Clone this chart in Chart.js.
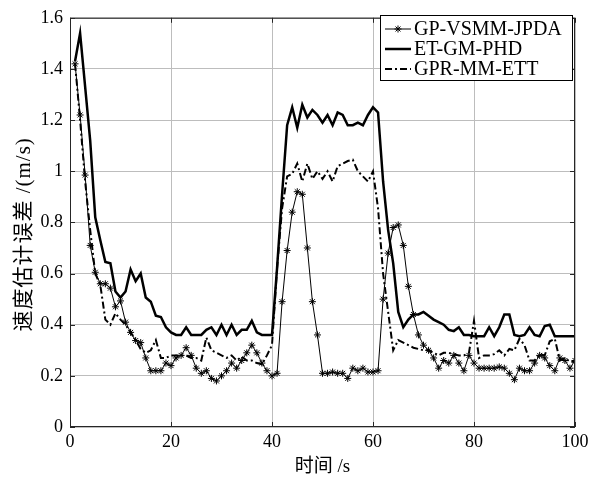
<!DOCTYPE html>
<html><head><meta charset="utf-8">
<script src="https://cdn.jsdelivr.net/npm/chart.js@4/dist/chart.umd.min.js"></script>
<style>html,body{margin:0;padding:0;background:#fff}#wrap{width:598px;height:479px}</style>
</head><body><div id="wrap"><canvas id="c" width="598" height="479"></canvas></div>
<script>
const seriesNames = ['GP-VSMM-JPDA', 'ET-GM-PHD', 'GPR-MM-ETT'];
const xTitle = '时间 /s';
const yTitle = '速度估计误差 /(m/s)';
const xTicks = [0, 20, 40, 60, 80, 100];
const yTicks = [0, 0.2, 0.4, 0.6, 0.8, 1, 1.2, 1.4, 1.6];

// values sampled at t = 1..100 s
const gpVsmmJpda = [1.42,1.22,0.985,0.71,0.605,0.56,0.56,0.543,0.47,0.493,
  0.41,0.37,0.338,0.33,0.27,0.22,0.22,0.22,0.25,0.24,
  0.27,0.28,0.31,0.28,0.23,0.21,0.22,0.19,0.18,0.20,
  0.22,0.25,0.23,0.26,0.29,0.32,0.29,0.25,0.22,0.20,
  0.21,0.49,0.69,0.84,0.92,0.91,0.70,0.49,0.36,0.21,
  0.21,0.215,0.21,0.21,0.19,0.23,0.22,0.23,0.215,0.215,
  0.22,0.50,0.68,0.78,0.79,0.71,0.55,0.44,0.36,0.32,
  0.30,0.27,0.23,0.26,0.25,0.28,0.25,0.22,0.28,0.25,
  0.23,0.23,0.23,0.23,0.235,0.23,0.21,0.185,0.23,0.22,
  0.22,0.25,0.28,0.27,0.24,0.22,0.27,0.26,0.23,0.26];
const etGmPhd = [1.43,1.54,1.33,1.12,0.82,0.73,0.645,0.64,0.53,0.506,
  0.53,0.616,0.57,0.60,0.506,0.49,0.435,0.43,0.39,0.37,
  0.36,0.36,0.39,0.36,0.36,0.36,0.38,0.39,0.36,0.40,
  0.36,0.40,0.36,0.38,0.38,0.415,0.37,0.36,0.36,0.36,
  0.62,0.91,1.18,1.25,1.17,1.26,1.21,1.24,1.22,1.19,
  1.22,1.18,1.23,1.22,1.18,1.18,1.19,1.18,1.22,1.25,
  1.23,0.96,0.77,0.64,0.45,0.39,0.42,0.44,0.44,0.45,
  0.435,0.42,0.41,0.40,0.38,0.375,0.39,0.36,0.36,0.355,
  0.355,0.355,0.39,0.355,0.39,0.44,0.44,0.36,0.355,0.36,
  0.39,0.36,0.355,0.395,0.40,0.355,0.355,0.355,0.355,0.355];
const gprMmEtt = [1.42,1.20,0.96,0.77,0.60,0.555,0.42,0.40,0.445,0.42,
  0.40,0.37,0.34,0.305,0.29,0.30,0.34,0.27,0.27,0.28,
  0.28,0.28,0.28,0.27,0.27,0.26,0.35,0.30,0.29,0.28,
  0.27,0.28,0.26,0.275,0.26,0.26,0.25,0.245,0.28,0.32,
  0.62,0.855,0.98,0.99,1.03,0.96,1.03,0.97,1.00,0.97,
  1.00,0.96,1.02,1.03,1.04,1.045,1.00,0.98,0.96,1.00,
  0.855,0.60,0.45,0.30,0.34,0.33,0.32,0.31,0.305,0.30,
  0.30,0.29,0.28,0.29,0.29,0.285,0.28,0.28,0.29,0.415,
  0.27,0.28,0.28,0.285,0.30,0.28,0.305,0.30,0.345,0.32,
  0.26,0.26,0.285,0.28,0.335,0.345,0.26,0.27,0.255,0.255];

const toPts = arr => arr.map((v, i) => ({x: i + 1, y: v}));

const serif = '"Liberation Serif", "Times New Roman", "Noto Sans CJK SC", serif';

const framePlugin = {
  id: 'frame',
  afterDatasetsDraw(chart) {
    const {ctx, chartArea: a, scales} = chart;
    ctx.save();
    ctx.strokeStyle = '#262626';
    ctx.lineWidth = 1;
    ctx.strokeRect(a.left + 0.5, a.top + 0.5, a.right - a.left - 1, a.bottom - a.top - 1);
    ctx.beginPath();
    const tl = 5;
    xTicks.forEach(v => {
      const x = Math.round(scales.x.getPixelForValue(v)) + 0.5;
      ctx.moveTo(x, a.bottom); ctx.lineTo(x, a.bottom - tl);
      ctx.moveTo(x, a.top); ctx.lineTo(x, a.top + tl);
    });
    yTicks.forEach(v => {
      const y = Math.round(scales.y.getPixelForValue(v)) + 0.5;
      ctx.moveTo(a.left, y); ctx.lineTo(a.left + tl, y);
      ctx.moveTo(a.right, y); ctx.lineTo(a.right - tl, y);
    });
    ctx.stroke();
    ctx.restore();
  },
  afterDraw(chart) {
    const {ctx, chartArea: a} = chart;
    // y axis title, rotated
    ctx.save();
    ctx.translate(24, (a.top + a.bottom) / 2 + 12);
    ctx.rotate(-Math.PI / 2);
    ctx.font = '21px ' + serif;
    ctx.textAlign = 'center';
    ctx.textBaseline = 'middle';
    ctx.fillStyle = '#000';
    ctx.letterSpacing = '1px';
    ctx.fillText(yTitle, 0, 0);
    ctx.restore();

    // legend
    const bx = 380, by = 15, bw = 192, bh = 65;
    ctx.save();
    ctx.fillStyle = '#fff';
    ctx.fillRect(bx, by, bw, bh);
    ctx.strokeStyle = '#000';
    ctx.lineWidth = 1;
    ctx.strokeRect(bx + 0.5, by + 0.5, bw, bh);
    ctx.font = '20px ' + serif;
    ctx.textBaseline = 'middle';
    ctx.fillStyle = '#000';
    chart.data.datasets.forEach((ds, i) => {
      const y = by + 14 + i * 20;
      ctx.save();
      ctx.strokeStyle = ds.borderColor;
      ctx.lineWidth = ds.borderWidth;
      ctx.setLineDash(ds.borderDash || []);
      ctx.beginPath();
      ctx.moveTo(bx + 5, y); ctx.lineTo(bx + 31, y);
      ctx.stroke();
      ctx.restore();
      if (ds.pointRadius > 0) {
        ctx.strokeStyle = '#000';
        Chart.helpers.drawPoint(ctx, {pointStyle: 'star', radius: ds.pointRadius, borderWidth: 1}, bx + 18, y);
      }
      ctx.fillText(ds.label, bx + 34, y + 1);
    });
    ctx.restore();
  }
};

new Chart(document.getElementById('c'), {
  type: 'line',
  data: {
    datasets: [
      {label: seriesNames[0], data: toPts(gpVsmmJpda), borderColor: '#000', backgroundColor: '#fff',
       borderWidth: 1, pointStyle: 'star', pointRadius: 3.5, pointBorderWidth: 1, pointBorderColor: '#000', tension: 0},
      {label: seriesNames[1], data: toPts(etGmPhd), borderColor: '#000', borderWidth: 2.5, pointRadius: 0, tension: 0},
      {label: seriesNames[2], data: toPts(gprMmEtt), borderColor: '#000', borderWidth: 2, borderDash: [7, 3, 2, 3], pointRadius: 0, tension: 0}
    ]
  },
  options: {
    responsive: false,
    animation: false,
    events: [],
    layout: {padding: {top: 15, right: 23, left: 0, bottom: 0}},
    plugins: {legend: {display: false}, tooltip: {enabled: false}},
    scales: {
      x: {
        type: 'linear', min: 0, max: 100,
        afterBuildTicks: s => { s.ticks = xTicks.map(v => ({value: v})); },
        afterFit: s => { s.height = 52; },
        grid: {color: '#bdbdbd', lineWidth: 1, drawTicks: false},
        border: {display: false},
        ticks: {color: '#000', font: {family: serif, size: 18}, padding: 4, maxRotation: 0,
                callback: v => String(v)},
        title: {display: true, text: xTitle, color: '#000', font: {family: serif, size: 19}, padding: {top: 0, bottom: 1}}
      },
      y: {
        type: 'linear', min: 0, max: 1.6,
        afterBuildTicks: s => { s.ticks = yTicks.map(v => ({value: v})); },
        afterFit: s => { s.width = 70; },
        grid: {color: '#bdbdbd', lineWidth: 1, drawTicks: false},
        border: {display: false},
        ticks: {color: '#000', font: {family: serif, size: 18}, padding: 7,
                callback: v => String(v)},
        title: {display: false}
      }
    }
  },
  plugins: [framePlugin]
});
</script>
</body></html>
